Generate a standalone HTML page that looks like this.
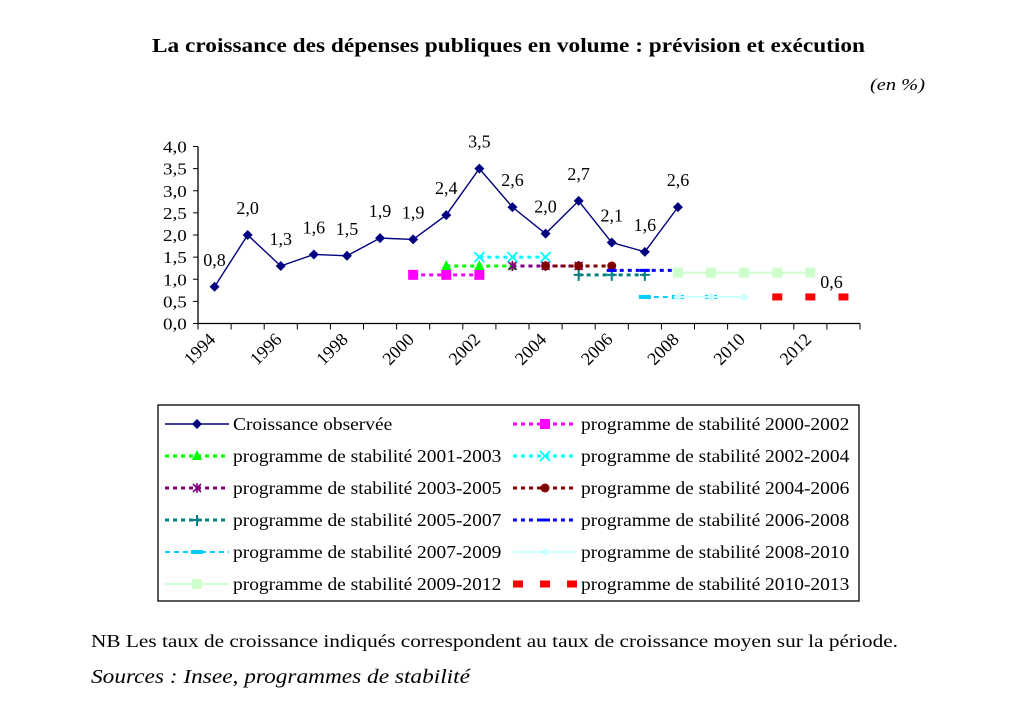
<!DOCTYPE html>
<html><head><meta charset="utf-8"><style>
body{margin:0;background:#fff;}
svg{display:block;font-family:"Liberation Serif",serif;}
</style></head><body>
<svg id="chart" width="1010" height="708" viewBox="0 0 1010 708">
<text x="152" y="52" font-size="20" font-weight="bold" textLength="713" lengthAdjust="spacingAndGlyphs">La croissance des dépenses publiques en volume : prévision et exécution</text>
<text x="870" y="90" font-size="17" font-style="italic" textLength="55" lengthAdjust="spacingAndGlyphs">(en %)</text>
<g id="plot"></g>
<rect x="158" y="405" width="701" height="196" fill="none" stroke="#000" stroke-width="1.3"/>
<g id="legend"></g>
<text x="91" y="647" font-size="18" textLength="807" lengthAdjust="spacingAndGlyphs">NB Les taux de croissance indiqués correspondent au taux de croissance moyen sur la période.</text>
<text x="91" y="683" font-size="20" font-style="italic" textLength="379" lengthAdjust="spacingAndGlyphs">Sources : Insee, programmes de stabilité</text>
</svg>
<script>
const years=[1994,1995,1996,1997,1998,1999,2000,2001,2002,2003,2004,2005,2006,2007,2008,2009,2010,2011,2012,2013];
const yTicks=[0,0.5,1,1.5,2,2.5,3,3.5,4];
const xLabels=[1994,1996,1998,2000,2002,2004,2006,2008,2010,2012];
const obsYears=[1994,1995,1996,1997,1998,1999,2000,2001,2002,2003,2004,2005,2006,2007,2008];
const obsValues=[0.83,2.0,1.3,1.56,1.53,1.93,1.9,2.45,3.5,2.63,2.03,2.77,1.83,1.62,2.63];
const obsLabels=["0,8","2,0","1,3","1,6","1,5","1,9","1,9","2,4","3,5","2,6","2,0","2,7","2,1","1,6","2,6"];
const p2000Years=[2000,2001,2002], p2000Values=[1.1,1.1,1.1];
const p2001Years=[2001,2002,2003], p2001Values=[1.3,1.3,1.3];
const p2002Years=[2002,2003,2004], p2002Values=[1.5,1.5,1.5];
const p2003Years=[2003,2004,2005], p2003Values=[1.3,1.3,1.3];
const p2004Years=[2004,2005,2006], p2004Values=[1.3,1.3,1.3];
const p2005Years=[2005,2006,2007], p2005Values=[1.1,1.1,1.1];
const p2006Years=[2006,2007,2008], p2006Values=[1.2,1.2,1.2];
const p2007Years=[2007,2008,2009], p2007Values=[0.6,0.6,0.6];
const p2008Years=[2008,2009,2010], p2008Values=[0.6,0.6,0.6];
const p2009Years=[2008,2009,2010,2011,2012], p2009Values=[1.15,1.15,1.15,1.15,1.15];
const p2010Years=[2011,2012,2013], p2010Values=[0.6,0.6,0.6];

const NS="http://www.w3.org/2000/svg";
const X0=198,X1=860,Y0=323.5,YT=146.5,YMAX=4;
const cw=(X1-X0)/years.length;
const xs=y=>X0+(years.indexOf(y)+0.5)*cw;
const ys=v=>Y0-(v/YMAX)*(Y0-YT);
const plot=document.getElementById('plot');
function mk(tag,attrs,parent){const e=document.createElementNS(NS,tag);for(const k in attrs)e.setAttribute(k,attrs[k]);(parent||plot).appendChild(e);return e;}
function widen(t,f){const l=t.getComputedTextLength();t.setAttribute('textLength',(l*f).toFixed(1));t.setAttribute('lengthAdjust','spacingAndGlyphs');}

let ax=mk('line',{x1:X0,y1:YT,x2:X0,y2:Y0,stroke:'#000','stroke-width':1.3});


let bx=mk('line',{x1:X0,y1:Y0,x2:X1,y2:Y0,stroke:'#000','stroke-width':1.3});


yTicks.forEach(v=>{
  mk('line',{x1:X0-5,y1:ys(v),x2:X0,y2:ys(v),stroke:'#000'});
  const t=mk('text',{x:X0-35,y:ys(v)+6,'font-size':17});
  t.textContent=v.toFixed(1).replace('.',',');
  
  
  widen(t,1.12);
});
for(let i=0;i<=years.length;i++){mk('line',{x1:X0+i*cw,y1:Y0,x2:X0+i*cw,y2:Y0+6,stroke:'#000'});}
xLabels.forEach(y=>{
  const x=xs(y)+2,yy=Y0+17;
  const t=mk('text',{x:x,y:yy,'text-anchor':'end','font-size':18,transform:`rotate(-45 ${x} ${yy})`});
  t.textContent=y;
  
  
});

function marker(type,x,y,color,g){
  switch(type){
    case 'diamond':mk('polygon',{points:`${x},${y-5} ${x+5},${y} ${x},${y+5} ${x-5},${y}`,fill:color},g);break;
    case 'square':mk('rect',{x:x-5,y:y-5,width:10,height:10,fill:color},g);break;
    case 'triangle':mk('polygon',{points:`${x},${y-6} ${x+5},${y+4} ${x-5},${y+4}`,fill:color},g);break;
    case 'x':mk('path',{d:`M${x-5},${y-5}L${x+5},${y+5}M${x+5},${y-5}L${x-5},${y+5}`,stroke:color,'stroke-width':1.8},g);break;
    case 'star':mk('path',{d:`M${x-4},${y-4}L${x+4},${y+4}M${x+4},${y-4}L${x-4},${y+4}M${x},${y-5}L${x},${y+5}`,stroke:color,'stroke-width':1.6},g);break;
    case 'circle':mk('circle',{cx:x,cy:y,r:4.5,fill:color},g);break;
    case 'plus':mk('path',{d:`M${x-5},${y}L${x+5},${y}M${x},${y-5}L${x},${y+6}`,stroke:color,'stroke-width':2},g);break;
    case 'dash':mk('rect',{x:x-5,y:y-1.5,width:10,height:3,fill:color},g);break;
    case 'ldash':mk('rect',{x:x-6,y:y-2,width:12,height:4,fill:color},g);break;
    case 'ldiamond':mk('polygon',{points:`${x},${y-4} ${x+5},${y} ${x},${y+4} ${x-5},${y}`,fill:color},g);break;
    case 'lsquare':mk('rect',{x:x-5,y:y-5,width:10,height:10,fill:color},g);break;
    case 'red':mk('rect',{x:x-5,y:y-3.5,width:10,height:7,fill:color},g);break;
  }
}
const series=[
 {name:'Croissance observée',yrs:obsYears,vals:obsValues,color:'#000080',dash:'',w:1.4,m:'diamond',line:true},
 {name:'programme de stabilité 2000-2002',yrs:p2000Years,vals:p2000Values,color:'#ff00ff',dash:'4,4',w:3,m:'square',line:true},
 {name:'programme de stabilité 2001-2003',yrs:p2001Years,vals:p2001Values,color:'#00ff00',dash:'4,4',w:3,m:'triangle',line:true},
 {name:'programme de stabilité 2002-2004',yrs:p2002Years,vals:p2002Values,color:'#00ffff',dash:'4,4',w:3,m:'x',line:true},
 {name:'programme de stabilité 2003-2005',yrs:p2003Years,vals:p2003Values,color:'#800080',dash:'4,4',w:3,m:'star',line:true},
 {name:'programme de stabilité 2004-2006',yrs:p2004Years,vals:p2004Values,color:'#800000',dash:'4,4',w:3,m:'circle',line:true},
 {name:'programme de stabilité 2005-2007',yrs:p2005Years,vals:p2005Values,color:'#008080',dash:'4,4',w:3,m:'plus',line:true},
 {name:'programme de stabilité 2006-2008',yrs:p2006Years,vals:p2006Values,color:'#0000ff',dash:'4,4',w:3,m:'dash',line:true},
 {name:'programme de stabilité 2007-2009',yrs:p2007Years,vals:p2007Values,color:'#00ccff',dash:'5,4',w:2,m:'ldash',line:true},
 {name:'programme de stabilité 2008-2010',yrs:p2008Years,vals:p2008Values,color:'#ccffff',dash:'',w:2,m:'ldiamond',line:true},
 {name:'programme de stabilité 2009-2012',yrs:p2009Years,vals:p2009Values,color:'#ccffcc',dash:'',w:2,m:'lsquare',line:true},
 {name:'programme de stabilité 2010-2013',yrs:p2010Years,vals:p2010Values,color:'#ff0000',dash:'',w:0,m:'red',line:false}
];
series.forEach((s,i)=>{
  const g=mk('g',{});
  
  
  if(s.line){
    const pts=s.yrs.map((y,j)=>xs(y)+','+ys(s.vals[j])).join(' ');
    mk('polyline',{points:pts,fill:'none',stroke:s.color,'stroke-width':s.w,'stroke-dasharray':s.dash||'none'},g);
  }
  s.yrs.forEach((y,j)=>marker(s.m,xs(y),ys(s.vals[j]),s.color,g));
});
obsYears.forEach((y,j)=>{
  const t=mk('text',{x:xs(y),y:ys(obsValues[j])-21,'text-anchor':'middle','font-size':18});
  t.textContent=obsLabels[j];
  
  
});
const l06=mk('text',{x:xs(2013)-12,y:ys(0.6)-9,'text-anchor':'middle','font-size':18});
l06.textContent='0,6';



const leg=document.getElementById('legend');
series.forEach((s,i)=>{
  const col=i%2,row=Math.floor(i/2);
  const lx=col?513:165,ty=424+row*32;
  const g=mk('g',{},leg);
  
  
  if(s.m==='red'){
    [lx+5,lx+32,lx+59].forEach(x=>marker('red',x,ty,s.color,g));
  } else {
    mk('line',{x1:lx,y1:ty,x2:lx+64,y2:ty,stroke:s.color,'stroke-width':s.w,'stroke-dasharray':s.dash||'none'},g);
    marker(s.m,lx+32,ty,s.color,g);
  }
  const t=mk('text',{x:lx+68,y:ty+6,'font-size':18},g);
  t.textContent=s.name;
  widen(t,1.08);
});
</script>
</body></html>
